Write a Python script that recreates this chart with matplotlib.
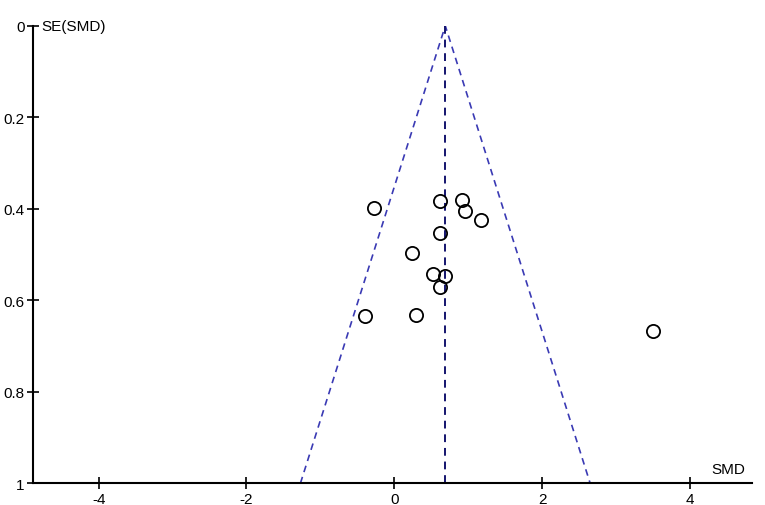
import numpy as np
import matplotlib
matplotlib.use("Agg")
import matplotlib.pyplot as plt

plt.rcParams['font.family'] = ['Liberation Sans', 'DejaVu Sans']

# study effects (SMD) and their standard errors
smd = [-0.27, 0.62, 0.91, 0.96, 1.17, 0.62, 0.24, 0.52, 0.68, 0.62, -0.39, 0.29, 3.50]
se = [0.398, 0.384, 0.381, 0.405, 0.424, 0.454, 0.497, 0.543, 0.548, 0.571, 0.635, 0.633, 0.667]
pooled = 0.69
se_max = 1.0
xticks = [-4, -2, 0, 2, 4]
yticks = [0, 0.2, 0.4, 0.6, 0.8, 1]
ytick_labels = ['0', '0.2', '0.4', '0.6', '0.8', '1']

fig = plt.figure(figsize=(7.65, 5.06), dpi=100)
ax = fig.add_axes([0.043, 0.043, 0.940, 0.904])

# funnel (95% limits)
ax.plot([pooled - 1.96 * se_max, pooled, pooled + 1.96 * se_max], [se_max, 0, se_max],
        ls=(0, (4, 3)), color='#3a3ab4', lw=1.2)
ax.plot([pooled, pooled], [0, se_max], ls=(0, (4, 3)), color='#14146e', lw=1.4)

ax.plot(smd, se, 'o', mfc='none', mec='black', ms=9.5, mew=1.3, ls='none')

ax.set_xlim(-4.89, 4.84)
ax.set_ylim(1, 0)
ax.set_xticks(xticks)
ax.set_xticklabels([str(t) for t in xticks])
ax.set_yticks(yticks)
ax.set_yticklabels(ytick_labels)

for s in ['top', 'right']:
    ax.spines[s].set_visible(False)
for s in ['left', 'bottom']:
    ax.spines[s].set_linewidth(1.5)
ax.tick_params(direction='inout', length=8, width=1.2, labelsize=11, pad=2)

ax.text(0.012, 1.0, 'SE(SMD)', transform=ax.transAxes, fontsize=11, va='center', ha='left')
ax.text(0.99, 0.015, 'SMD', transform=ax.transAxes, fontsize=11, va='bottom', ha='right')

fig.savefig('out.png', dpi=100)
